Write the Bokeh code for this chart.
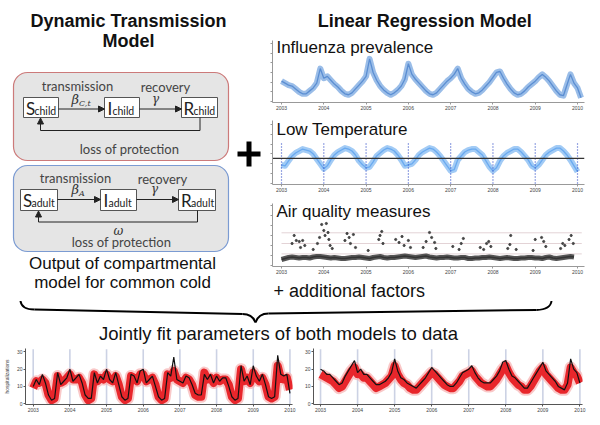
from bokeh.plotting import figure
from bokeh.layouts import column, row
from bokeh.models import Range1d, FixedTicker, Label, Arrow, NormalHead
from bokeh.embed import file_html
from bokeh.resources import INLINE
from bokeh.core.properties import value

# ---------------- data ----------------
years = [2003, 2004, 2005, 2006, 2007, 2008, 2009, 2010]

# Influenza prevalence (arbitrary units), monthly Jan 2003 - Feb 2010
influenza = [
    2.1, 1.9, 1.7, 1.6, 1.3, 1.0, 0.8, 0.8, 1.1, 1.4, 1.9, 3.4,
    2.4, 2.6, 2.2, 1.8, 1.5, 1.1, 0.8, 0.7, 0.9, 1.3, 1.7, 2.1,
    2.6, 4.4, 3.0, 2.2, 1.6, 1.2, 0.9, 0.7, 0.9, 1.2, 1.6, 2.3,
    3.9, 2.8, 2.3, 1.9, 1.5, 1.1, 0.8, 0.7, 0.9, 1.3, 1.7, 2.1,
    2.4, 2.8, 3.4, 2.4, 1.8, 1.3, 1.0, 0.8, 0.9, 1.2, 1.6, 2.0,
    2.5, 3.0, 3.1, 2.4, 1.8, 1.3, 0.9, 0.7, 0.8, 1.1, 1.5, 1.8,
    2.1, 2.5, 2.8, 2.5, 2.1, 1.6, 1.1, 0.7, 0.6, 1.7, 2.8, 1.9,
    1.4, 0.4]

# Low temperature (arbitrary units), monthly Jan 2003 - Jan 2010
temperature = [
    1.9, 1.8, 2.3, 2.8, 3.1, 3.3, 3.5, 3.4, 3.3, 3.0, 2.5, 2.0,
    1.5, 1.8, 2.4, 2.9, 3.2, 3.4, 3.6, 3.5, 3.3, 2.9, 2.3, 1.9,
    1.6, 1.7, 2.2, 2.8, 3.1, 3.4, 3.6, 3.5, 3.3, 2.9, 2.4, 1.8,
    1.9, 2.0, 2.4, 2.9, 3.2, 3.4, 3.6, 3.5, 3.2, 2.8, 2.3, 1.8,
    1.3, 1.4, 2.4, 2.8, 3.2, 3.4, 3.5, 3.5, 3.2, 2.9, 2.3, 1.7,
    1.3, 1.6, 2.3, 2.8, 3.1, 3.3, 3.5, 3.5, 3.2, 2.8, 2.4, 1.8,
    1.6, 1.9, 2.4, 2.9, 3.2, 3.4, 3.6, 3.6, 3.3, 2.9, 2.4, 1.8,
    1.2]
temp_reference = 2.55

# Air quality: monthly baseline Jan 2003 - Dec 2009 and scattered high readings
air_baseline = [
    0.60, 0.70, 0.80, 0.85, 0.80, 0.75, 0.80, 0.80, 0.75, 0.85, 0.90, 0.90,
    0.85, 0.80, 0.75, 0.80, 0.75, 0.70, 0.70, 0.75, 0.80, 0.80, 0.85, 0.80,
    0.75, 0.70, 0.80, 0.85, 0.90, 0.80, 0.75, 0.80, 0.80, 0.85, 0.90, 0.95,
    0.90, 0.85, 0.80, 0.85, 0.90, 0.95, 0.85, 0.80, 0.75, 0.80, 0.80, 0.85,
    0.80, 0.75, 0.75, 0.80, 0.80, 0.70, 0.70, 0.75, 0.75, 0.80, 0.80, 0.85,
    0.80, 0.75, 0.70, 0.75, 0.80, 0.75, 0.70, 0.70, 0.75, 0.75, 0.80, 0.80,
    0.75, 0.75, 0.70, 0.80, 0.85, 0.75, 0.70, 0.75, 0.80, 0.85, 0.90, 0.85]
air_peak_time = [
    2003.25, 2003.30, 2003.35, 2003.42, 2003.45, 2003.50, 2003.55,
    2003.75, 2003.85, 2003.90, 2003.95, 2004.00, 2004.03, 2004.06, 2004.10, 2004.12, 2004.15, 2004.20,
    2004.50, 2004.55, 2004.60, 2004.63, 2004.70, 2004.75,
    2005.05, 2005.30, 2005.33, 2005.37, 2005.40,
    2005.70, 2005.78, 2005.85, 2005.90, 2006.00, 2006.05,
    2006.35, 2006.42, 2006.50, 2006.55, 2006.62, 2006.65,
    2007.05, 2007.20, 2007.25, 2007.30,
    2007.70, 2007.78, 2007.85, 2007.90, 2007.95,
    2008.35, 2008.40, 2008.42, 2008.55,
    2008.95, 2009.00, 2009.15, 2009.20, 2009.25,
    2009.60, 2009.65, 2009.70, 2009.80, 2009.85, 2009.90]
air_peak_value = [
    2.2, 3.0, 2.5, 2.4, 1.8, 2.5, 2.0,
    1.6, 2.2, 2.8, 4.1, 3.5, 3.0, 4.2, 3.3, 2.6, 2.0, 1.7,
    2.5, 3.2, 2.8, 2.2, 3.1, 1.8,
    1.5, 2.6, 3.0, 3.4, 2.2,
    2.6, 2.3, 2.9, 2.0, 2.5, 1.8,
    1.8, 2.4, 3.3, 2.8, 2.3, 1.7,
    1.9, 1.6, 2.2, 2.7,
    1.8, 1.6, 2.2, 2.4, 1.9,
    1.7, 2.1, 3.0, 1.6,
    1.5, 2.6, 2.8, 2.4, 1.9,
    1.7, 2.2, 2.0, 2.6, 3.0, 2.2]
air_levels = [1.16, 2.2, 3.27]

# Hospitalizations, monthly Jan 2003 - Jan 2010
child_obs = [
    10, 14, 11, 17, 12, 5, 2, 3, 18, 11, 13, 15,
    20, 13, 15, 17, 12, 5, 3, 3, 18, 12, 16, 14,
    20, 14, 12, 18, 11, 4, 2, 3, 17, 16, 12, 19,
    20, 12, 14, 16, 10, 4, 2, 3, 18, 16, 27, 14,
    13, 12, 16, 15, 11, 6, 5, 5, 17, 14, 17, 12,
    16, 13, 15, 15, 10, 4, 2, 3, 22, 13, 16, 11,
    22, 16, 13, 17, 11, 4, 3, 4, 28, 17, 16, 17,
    6]
child_fit = [
    9, 13, 12, 14, 12, 5, 2, 3, 16, 12, 13, 15,
    17, 14, 14, 15, 12, 5, 2, 3, 17, 13, 15, 14,
    17, 14, 13, 16, 11, 4, 2, 3, 16, 15, 13, 17,
    17, 13, 14, 15, 11, 4, 2, 3, 17, 15, 19, 14,
    13, 12, 15, 14, 11, 5, 4, 4, 18, 14, 15, 12,
    15, 13, 14, 14, 11, 4, 2, 3, 20, 13, 15, 12,
    18, 15, 13, 15, 11, 4, 3, 4, 22, 15, 14, 15,
    8]
adult_obs = [
    20, 19, 17, 17, 15, 13, 11, 12, 16, 19, 22, 25,
    18, 20, 17, 17, 15, 13, 11, 11, 12, 13, 15, 18,
    26, 19, 15, 14, 12, 11, 10, 9, 11, 13, 15, 18,
    21, 19, 17, 15, 13, 11, 10, 10, 12, 15, 18, 19,
    20, 22, 18, 15, 13, 12, 12, 12, 14, 16, 19, 24,
    25, 20, 16, 15, 13, 11, 9, 9, 12, 15, 18, 21,
    24, 19, 17, 15, 13, 10, 9, 8, 12, 26, 20, 18,
    12]
adult_fit = [
    17, 16, 15, 14, 13, 11, 9, 10, 13, 16, 19, 21,
    17, 17, 15, 15, 13, 11, 9, 10, 11, 12, 14, 16,
    22, 17, 14, 12, 11, 9, 8, 8, 10, 12, 14, 16,
    18, 17, 15, 13, 11, 10, 9, 9, 11, 13, 16, 17,
    18, 19, 16, 14, 12, 11, 10, 10, 12, 14, 17, 20,
    22, 18, 15, 13, 11, 10, 8, 8, 10, 13, 16, 19,
    21, 17, 15, 13, 11, 9, 8, 8, 11, 21, 18, 16,
    12]


def months(n):
    return [2003 + i / 12 for i in range(n)]


SANS = "Liberation Sans"
DIAG = "Lato"


def plain(p):
    p.outline_line_color = None
    p.background_fill_color = "white"
    p.border_fill_color = "white"
    p.grid.visible = False
    return p


def canvas(w, h, xr, yr):
    p = figure(width=w, height=h, x_range=Range1d(*xr), y_range=Range1d(*yr),
               output_backend="svg", toolbar_location=None,
               x_axis_location=None, y_axis_location=None, min_border=0)
    return plain(p)


def txt(p, x, y, s, size, font=SANS, style="normal", color="#111", align="left", base="middle"):
    p.text(x=[x], y=[y], text=[s], text_font=value(font), text_font_size=size,
           text_font_style=style, text_color=color, text_align=align, text_baseline=base)


def arrow(p, x0, y0, x1, y1):
    p.add_layout(Arrow(end=NormalHead(size=6, fill_color="#222", line_color="#222"),
                       x_start=x0, y_start=y0, x_end=x1, y_end=y1,
                       line_color="#222", line_width=1))


# ---------------- left: compartmental diagram ----------------
left = canvas(262, 300, (0, 262), (300, 0))
txt(left, 128, 20, "Dynamic Transmission", "18px", style="bold", align="center")
txt(left, 128, 40, "Model", "18px", style="bold", align="center")

left.quad(left=[13, 13], right=[228, 228], top=[72, 165], bottom=[160, 251],
          border_radius=14, fill_color="#e5e5e5",
          line_color=["#cc7a7a", "#7b9bd2"], line_width=1.2)


def compartment_row(p, boxes, sub, ybox, yarrow, yloop):
    ymid = (ybox[0] + ybox[1]) / 2
    for (x0, x1, letter, dx_main, dx_sub) in boxes:
        p.quad(left=[x0], right=[x1], top=[ybox[0]], bottom=[ybox[1]],
               fill_color="white", line_color="#555", line_width=1)
        txt(p, x0 + dx_main, ymid + 0.5, letter, "17px", font=DIAG, color="#222")
        txt(p, x0 + dx_sub, ymid + 3, sub, "10.5px", font=DIAG, color="#222")
    (s0, s1, _, _, _), (i0, i1, _, _, _), (r0, r1, _, _, _) = boxes
    arrow(p, s1, yarrow, i0, yarrow)
    arrow(p, i1, yarrow, r0, yarrow)
    xr = (r0 + r1) / 2 + 0.5
    xs = (s0 + s1) / 2 - 0.5
    p.line(x=[xr, xr, xs, xs], y=[ybox[1], yloop, yloop, ybox[1] + 6],
           line_color="#222", line_width=1)
    arrow(p, xs, ybox[1] + 6, xs, ybox[1] + 0.5)


compartment_row(left, [(23, 58, "S", 2.5, 11), (104, 139, "I", 3, 8), (181, 217, "R", 2, 12)],
                "child", (97, 117), 108.5, 130)
compartment_row(left, [(20, 57, "S", 2.5, 11), (100, 136, "I", 3, 8), (178, 215, "R", 2.5, 12.5)],
                "adult", (189, 210), 199, 221.5)

txt(left, 77, 85, "transmission", "13px", font=DIAG, color="#444", align="center")
txt(left, 165, 86, "recovery", "13px", font=DIAG, color="#444", align="center")
txt(left, 129, 148, "loss of protection", "13px", font=DIAG, color="#444", align="center")
txt(left, 75, 177, "transmission", "13px", font=DIAG, color="#444", align="center")
txt(left, 162, 178, "recovery", "13px", font=DIAG, color="#444", align="center")
txt(left, 121, 241, "loss of protection", "13px", font=DIAG, color="#444", align="center")

txt(left, 71, 99, "β", "13px", font="DejaVu Serif", style="italic", color="#333")
txt(left, 78.5, 103, "C,t", "8px", font="DejaVu Serif", style="italic", color="#333")
txt(left, 155, 98, "γ", "12px", font="DejaVu Serif", style="italic", color="#333", align="center")
txt(left, 71, 189, "β", "13px", font="DejaVu Serif", style="italic", color="#333")
txt(left, 78.5, 193, "A", "8px", font="DejaVu Serif", style="italic", color="#333")
txt(left, 154, 188, "γ", "12px", font="DejaVu Serif", style="italic", color="#333", align="center")
txt(left, 118, 230, "ω", "12px", font="DejaVu Serif", style="italic", color="#333", align="center")

txt(left, 122, 263, "Output of compartmental", "17px", align="center")
txt(left, 122, 282, "model for common cold", "17px", align="center")

left.segment(x0=[237, 248.5], y0=[153.5, 141], x1=[260, 248.5], y1=[153.5, 166],
             line_color="black", line_width=5)

# ---------------- right: regression inputs ----------------
title_r = canvas(338, 38, (262, 600), (38, 0))
txt(title_r, 427, 20, "Linear Regression Model", "18px", style="bold", align="center")


def series_fig(h, top, bottom, yr):
    p = figure(width=338, height=h, x_range=Range1d(2002.787, 2010.165), y_range=Range1d(*yr),
               output_backend="svg", toolbar_location=None,
               min_border_left=10, min_border_right=16, min_border_top=top, min_border_bottom=bottom)
    plain(p)
    p.xaxis.ticker = FixedTicker(ticks=years)
    p.xaxis.major_label_text_font_size = "5px"
    p.xaxis.major_label_text_color = "#444"
    p.xaxis.major_label_standoff = 1
    yt = [0, 1, 2, 3, 4, 5, 6]
    p.yaxis.ticker = FixedTicker(ticks=yt)
    p.yaxis.major_label_overrides = {t: "" for t in yt}
    p.yaxis.major_label_standoff = 0
    for ax in (p.xaxis, p.yaxis):
        ax.axis_line_color = "#999"
        ax.major_tick_line_color = "#999"
        ax.major_tick_out = 2
        ax.major_tick_in = 0
        ax.minor_tick_line_color = None
    return p


def panel_title(p, y, s):
    p.add_layout(Label(x=2002.88, y=y, text=s, text_font=SANS, text_font_size="17px",
                       text_color="#111", text_baseline="middle"))


infl = series_fig(74, 2, 8, (-0.1, 6.3))
t_infl = months(len(influenza))
infl.line(t_infl, influenza, line_color="#9abde8", line_width=6, line_join="round")
infl.line(t_infl, influenza, line_color="#5b8ed2", line_width=1.3)
panel_title(infl, 5.6, "Influenza prevalence")

temp = series_fig(82, 8, 7, (-0.1, 6.4))
t_temp = months(len(temperature))
temp.line(t_temp, temperature, line_color="#a2cbf5", line_width=6, line_join="round")
temp.line(t_temp, temperature, line_color="#6aaaf0", line_width=1.3)
temp.segment(x0=years, y0=[0] * len(years), x1=years, y1=[4.2] * len(years),
             line_color="#3450c8", line_width=1.2, line_dash="1 2")
temp.line([2002.787, 2010.165], [temp_reference, temp_reference], line_color="#333", line_width=1.3)
panel_title(temp, 5.45, "Low Temperature")

air = series_fig(82, 9, 8, (-0.1, 6.2))
for lv in air_levels:
    air.line([2003.0, 2010.1], [lv, lv], line_color="#e3d3d6", line_width=1)
t_air = months(len(air_baseline))
air.line(t_air, air_baseline, line_color="#555", line_width=5, line_join="round")
air.line(t_air, air_baseline, line_color="#333", line_width=1.5)
air.scatter(air_peak_time, air_peak_value, size=2.2, color="#444")
panel_title(air, 5.45, "Air quality measures")

addl = canvas(338, 24, (262, 600), (300, 276))
txt(addl, 263, 290, "+ additional factors", "18px")

right = column(title_r, infl, temp, air, addl, spacing=0)
top_row = row(left, right, spacing=0)

# ---------------- brace + joint fit title ----------------
brace = canvas(600, 45, (0, 600), (345, 300))
brace.quadratic(x0=[20, 242, 255, 536], y0=[300.5, 313.5, 322, 309.5],
                x1=[34, 255, 268, 551], y1=[309, 322, 313, 300.5],
                cx=[21, 252, 258, 550], cy=[309, 313.5, 313, 309],
                line_color="black", line_width=2)
brace.segment(x0=[34, 268], y0=[309, 313], x1=[242, 536], y1=[313.5, 309.5],
              line_color="black", line_width=2)
txt(brace, 278, 333, "Jointly fit parameters of both models to data", "18.5px", align="center")


# ---------------- bottom: fits ----------------
def fit_fig(xr, left_border, right_border, obs, fit, ylabel):
    p = figure(width=300, height=80, x_range=Range1d(*xr), y_range=Range1d(-0.5, 32),
               output_backend="svg", toolbar_location=None,
               min_border_left=left_border, min_border_right=right_border,
               min_border_top=3, min_border_bottom=21)
    plain(p)
    p.segment(x0=years, y0=[-0.5] * len(years), x1=years, y1=[31.5] * len(years),
              line_color="#ccd2e4", line_width=1.6)
    t = months(len(obs))
    p.line(t, fit, line_color="#f6b0b0", line_width=12, line_join="round", line_alpha=0.7)
    p.line(t, fit, line_color="#e8262b", line_width=8, line_join="round")
    p.line(t, obs, line_color="#111", line_width=1.2)
    p.xaxis.ticker = FixedTicker(ticks=years)
    p.yaxis.ticker = FixedTicker(ticks=[0, 10, 20, 30])
    for ax in (p.xaxis, p.yaxis):
        ax.major_label_text_font_size = "5px"
        ax.major_label_text_color = "#444"
        ax.major_label_standoff = 1
        ax.axis_line_color = "#555"
        ax.major_tick_line_color = "#555"
        ax.major_tick_out = 2
        ax.major_tick_in = 0
        ax.minor_tick_line_color = None
    if ylabel:
        p.yaxis.axis_label = ylabel
        p.yaxis.axis_label_text_font_size = "5px"
        p.yaxis.axis_label_text_font_style = "normal"
        p.yaxis.axis_label_text_font = SANS
        p.yaxis.axis_label_standoff = 4
    return p


fit_child = fit_fig((2002.79, 2010.07), 23, 8, child_obs, child_fit, "hospitalizations")
fit_adult = fit_fig((2002.81, 2010.07), 13, 18, adult_obs, adult_fit, None)
bottom_row = row(fit_child, fit_adult, spacing=0)

layout = column(top_row, brace, bottom_row, spacing=0)

open("out.html", "w").write(file_html(layout, INLINE))
